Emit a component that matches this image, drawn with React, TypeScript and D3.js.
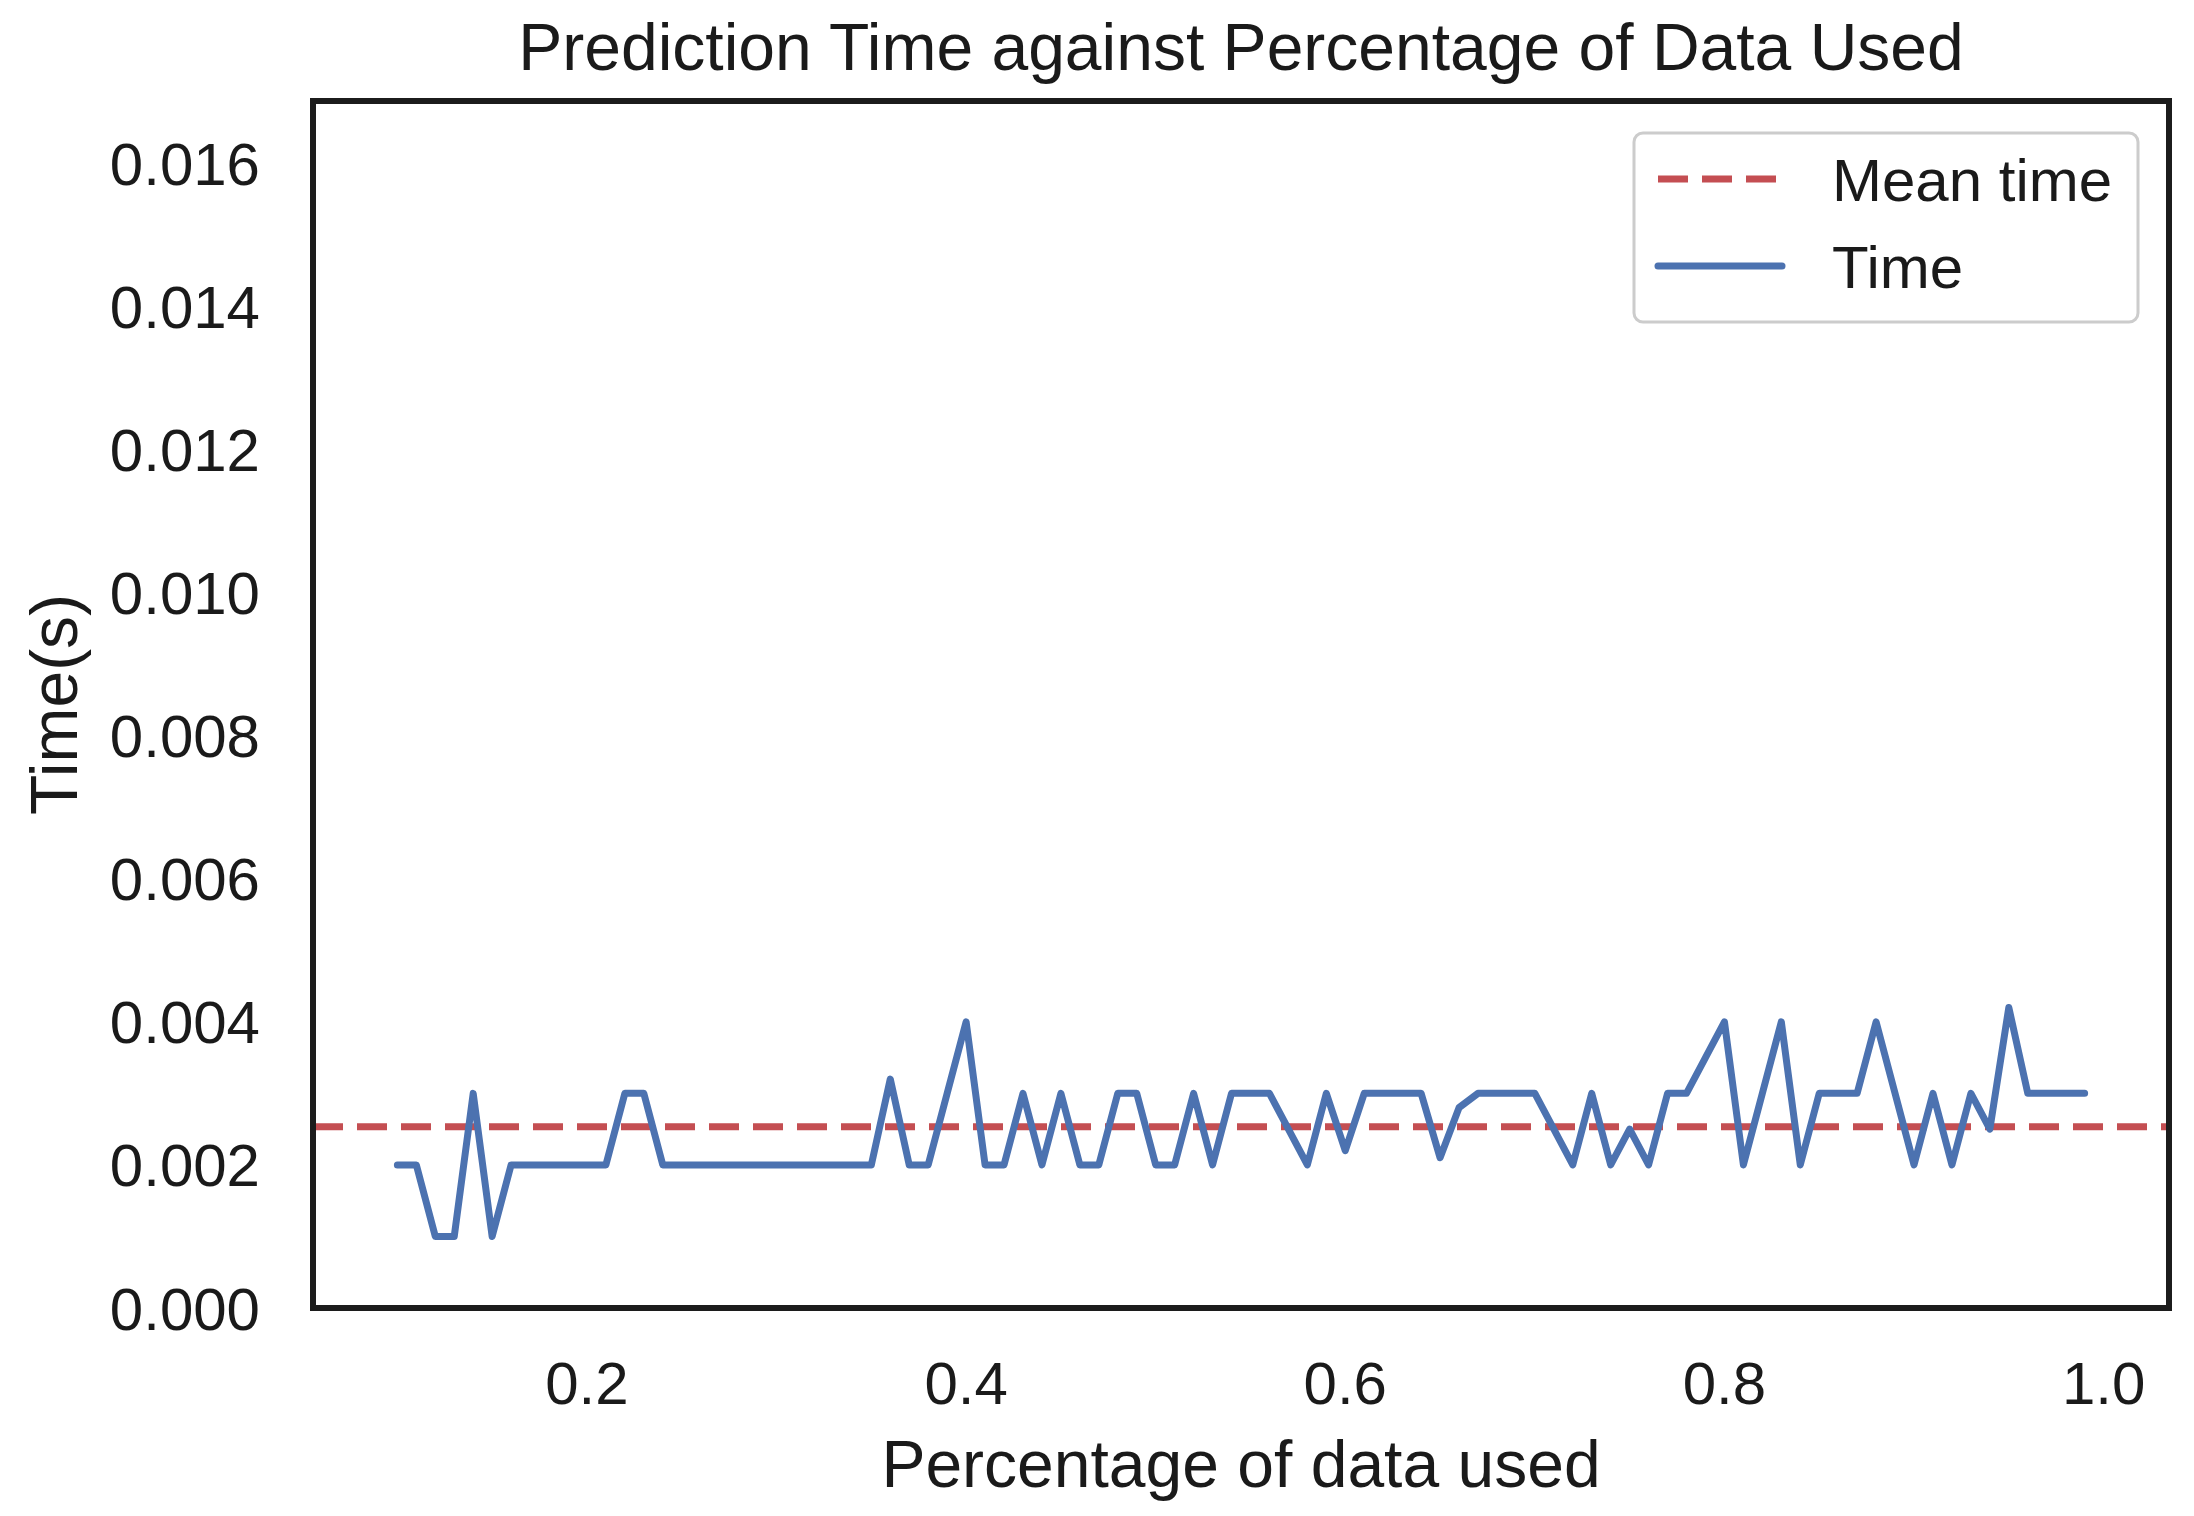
import React from "react";
import * as d3 from "d3";

const pctUsed: number[] = [
  0.10, 0.11, 0.12, 0.13, 0.14, 0.15, 0.16, 0.17, 0.18, 0.19,
  0.20, 0.21, 0.22, 0.23, 0.24, 0.25, 0.26, 0.27, 0.28, 0.29,
  0.30, 0.31, 0.32, 0.33, 0.34, 0.35, 0.36, 0.37, 0.38, 0.39,
  0.40, 0.41, 0.42, 0.43, 0.44, 0.45, 0.46, 0.47, 0.48, 0.49,
  0.50, 0.51, 0.52, 0.53, 0.54, 0.55, 0.56, 0.57, 0.58, 0.59,
  0.60, 0.61, 0.62, 0.63, 0.64, 0.65, 0.66, 0.67, 0.68, 0.69,
  0.70, 0.71, 0.72, 0.73, 0.74, 0.75, 0.76, 0.77, 0.78, 0.79,
  0.80, 0.81, 0.82, 0.83, 0.84, 0.85, 0.86, 0.87, 0.88, 0.89,
  0.90, 0.91, 0.92, 0.93, 0.94, 0.95, 0.96, 0.97, 0.98, 0.99,
];

const timeSec: number[] = [
  0.002, 0.002, 0.001, 0.001, 0.003, 0.001, 0.002, 0.002, 0.002, 0.002,
  0.002, 0.002, 0.003, 0.003, 0.002, 0.002, 0.002, 0.002, 0.002, 0.002,
  0.002, 0.002, 0.002, 0.002, 0.002, 0.002, 0.0032, 0.002, 0.002, 0.003,
  0.004, 0.002, 0.002, 0.003, 0.002, 0.003, 0.002, 0.002, 0.003, 0.003,
  0.002, 0.002, 0.003, 0.002, 0.003, 0.003, 0.003, 0.0025, 0.002, 0.003,
  0.0022, 0.003, 0.003, 0.003, 0.003, 0.0021, 0.0028, 0.003, 0.003, 0.003,
  0.003, 0.0025, 0.002, 0.003, 0.002, 0.0025, 0.002, 0.003, 0.003, 0.0035,
  0.004, 0.002, 0.003, 0.004, 0.002, 0.003, 0.003, 0.003, 0.004, 0.003,
  0.002, 0.003, 0.002, 0.003, 0.0025, 0.0042, 0.003, 0.003, 0.003, 0.003,
];

const xTicks: number[] = [0.2, 0.4, 0.6, 0.8, 1.0];
const yTicks: number[] = [0, 0.002, 0.004, 0.006, 0.008, 0.01, 0.012, 0.014, 0.016];
const legendLabels: string[] = ["Mean time", "Time"];

const TITLE = "Prediction Time against Percentage of Data Used";
const XLABEL = "Percentage of data used";
const YLABEL = "Time(s)";

const W = 2194;
const H = 1516;
const L = 313, R = 2169, T = 101, B = 1308;
const FONT = "'Liberation Sans', Arial, Helvetica, sans-serif";
const TXT = "#1a1a1a";
const EDGE = "#1c1c1c";
const BLUE = "#4c72b0";
const RED = "#c44e52";
const LW = 7;
const DASH = "30 14";

export default function App() {
  const x = d3.scaleLinear().domain([0.0555, 1.0345]).range([L, R]);
  const y = d3.scaleLinear().domain([0, 0.01687]).range([B, T]);
  const pts: [number, number][] = pctUsed.map((p, i) => [p, timeSec[i]]);
  const line = d3
    .line<[number, number]>()
    .x((d) => x(d[0]))
    .y((d) => y(d[1]));
  const meanTime = d3.mean(timeSec) as number;
  const fx = d3.format(".1f");
  const fy = d3.format(".3f");

  const lgX = 1634, lgY = 133, lgW = 504, lgH = 189;
  const row1 = 179, row2 = 266;

  return (
    <svg
      width={W}
      height={H}
      style={{ position: "absolute", left: 0, top: 0, background: "#fff" }}
      fontFamily={FONT}
    >
      <rect x={0} y={0} width={W} height={H} fill="#fff" />
      <defs>
        <clipPath id="plotclip">
          <rect x={L} y={T} width={R - L} height={B - T} />
        </clipPath>
      </defs>
      <g clipPath="url(#plotclip)">
        <line
          x1={L}
          x2={R}
          y1={y(meanTime)}
          y2={y(meanTime)}
          stroke={RED}
          strokeWidth={LW}
          strokeDasharray={DASH}
        />
        <path
          d={line(pts) || ""}
          fill="none"
          stroke={BLUE}
          strokeWidth={LW}
          strokeLinejoin="round"
          strokeLinecap="round"
        />
      </g>
      <rect x={L} y={T} width={R - L} height={B - T} fill="none" stroke={EDGE} strokeWidth={6} />

      {yTicks.map((v) => (
        <text key={"y" + v} x={260} y={y(v) + 21.5} textAnchor="end" fontSize={60} fill={TXT}>
          {fy(v)}
        </text>
      ))}
      {xTicks.map((v) => (
        <text key={"x" + v} x={x(v)} y={1404} textAnchor="middle" fontSize={60} fill={TXT}>
          {fx(v)}
        </text>
      ))}

      <text x={(L + R) / 2} y={70} textAnchor="middle" fontSize={66} fill={TXT}>
        {TITLE}
      </text>
      <text x={(L + R) / 2} y={1487} textAnchor="middle" fontSize={66} fill={TXT}>
        {XLABEL}
      </text>
      <text
        transform={`translate(76.5, ${(T + B) / 2}) rotate(-90)`}
        textAnchor="middle"
        fontSize={66}
        fill={TXT}
      >
        {YLABEL}
      </text>

      <g>
        <rect x={lgX} y={lgY} width={lgW} height={lgH} rx={9} ry={9} fill="#fff" fillOpacity={0.8} stroke="#cccccc" strokeWidth={3} />
        <line x1={1658} x2={1782} y1={row1} y2={row1} stroke={RED} strokeWidth={LW} strokeDasharray={DASH} />
        <text x={1832} y={row1 + 21.5} fontSize={60} fill={TXT}>
          {legendLabels[0]}
        </text>
        <line x1={1658} x2={1782} y1={row2} y2={row2} stroke={BLUE} strokeWidth={LW} strokeLinecap="round" />
        <text x={1832} y={row2 + 21.5} fontSize={60} fill={TXT}>
          {legendLabels[1]}
        </text>
      </g>
    </svg>
  );
}
